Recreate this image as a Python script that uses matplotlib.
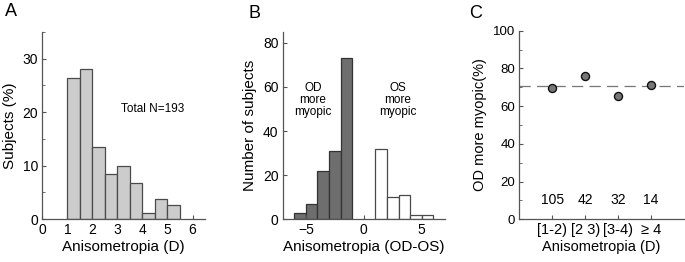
import numpy as np
import matplotlib.pyplot as plt
from matplotlib.ticker import MultipleLocator

plt.rcParams['font.family'] = ['Liberation Sans', 'DejaVu Sans']

# panel A: histogram of |anisometropia|, percent of subjects
a_edges = [1.0, 1.5, 2.0, 2.5, 3.0, 3.5, 4.0, 4.5, 5.0, 5.5]
a_pct = [26.4, 28.0, 13.5, 8.4, 9.9, 6.8, 1.1, 3.7, 2.6]

# panel B: signed anisometropia (OD-OS), counts
b_od_edges = [-6, -5, -4, -3, -2, -1]
b_od_counts = [3, 7, 22, 31, 73]
b_os_edges = [1, 2, 3, 4, 5, 6]
b_os_counts = [32, 10, 11, 2, 2]

# panel C: percent with OD more myopic per group
c_groups = ['[1-2)', '[2 3)', '[3-4)', '\u2265 4']
c_pct = [69.5, 76.2, 65.6, 71.4]
c_n = [105, 42, 32, 14]
c_overall = 70.5

spine_col = '#555555'
edge_col = '#4a4a4a'

fig = plt.figure(figsize=(6.85, 2.62), dpi=100)
axA = fig.add_axes([0.0618, 0.163, 0.2375, 0.716])
axB = fig.add_axes([0.4127, 0.163, 0.2369, 0.716])
axC = fig.add_axes([0.758, 0.163, 0.2405, 0.720])


def style(ax, tsize):
    for s in ['top', 'right']:
        ax.spines[s].set_visible(False)
    for s in ['left', 'bottom']:
        ax.spines[s].set_color(spine_col)
        ax.spines[s].set_linewidth(0.9)
    ax.tick_params(which='both', direction='in', color=spine_col, labelsize=tsize, pad=3)
    ax.tick_params(which='major', length=3)
    ax.tick_params(which='minor', length=2)


# A
style(axA, 10)
axA.bar(a_edges[:-1], a_pct, width=np.diff(a_edges), align='edge',
        color='#cccccc', edgecolor=edge_col, linewidth=0.9)
axA.set_xlim(0, 6.5)
axA.set_ylim(0, 35)
axA.set_xticks(range(0, 7))
axA.set_yticks([0, 10, 20, 30])
axA.yaxis.set_minor_locator(MultipleLocator(5))
axA.set_xlabel('Anisometropia (D)', fontsize=11, labelpad=2)
axA.set_ylabel('Subjects (%)', fontsize=11, labelpad=4)
axA.text(4.39, 20.5, 'Total N=193', fontsize=8.5, ha='center', va='center')

# B
style(axB, 10)
axB.bar(b_od_edges[:-1], b_od_counts, width=1, align='edge',
        color='#6e6e6e', edgecolor='#333333', linewidth=0.9)
axB.bar(b_os_edges[:-1], b_os_counts, width=1, align='edge',
        color='white', edgecolor=edge_col, linewidth=0.9)
axB.set_xlim(-7, 7)
axB.set_ylim(0, 85)
axB.set_xticks([-5, 0, 5])
axB.set_yticks([0, 20, 40, 60, 80])
axB.set_xlabel('Anisometropia (OD-OS)', fontsize=11, labelpad=2)
axB.set_ylabel('Number of subjects', fontsize=11, labelpad=4)
axB.text(-4.4, 54, 'OD\nmore\nmyopic', fontsize=8.5, ha='center', va='center', linespacing=1.0)
axB.text(2.93, 54, 'OS\nmore\nmyopic', fontsize=8.5, ha='center', va='center', linespacing=1.0)

# C
style(axC, 9.5)
xc = np.arange(1, len(c_groups) + 1)
axC.axhline(c_overall, color='#777777', linestyle=(0, (9, 5)), linewidth=0.9, zorder=1)
axC.plot(xc, c_pct, 'o', markersize=5.8, markerfacecolor='#777777',
         markeredgecolor='#111111', markeredgewidth=1.0, zorder=3)
for x, n in zip(xc, c_n):
    axC.text(x, 10, str(n), fontsize=10, ha='center', va='center')
axC.set_xlim(0, 5)
axC.set_ylim(0, 100)
axC.set_xticks(xc)
axC.set_xticklabels(c_groups, fontsize=10.5)
axC.set_yticks([0, 20, 40, 60, 80, 100])
axC.yaxis.set_minor_locator(MultipleLocator(10))
axC.set_xlabel('Anisometropia (D)', fontsize=10.5, labelpad=2)
axC.set_ylabel('OD more myopic(%)', fontsize=10.5, labelpad=4)

fig.text(5 / 685, 1 - 12 / 262, 'A', fontsize=13, va='center', ha='left')
fig.text(248 / 685, 1 - 13 / 262, 'B', fontsize=13, va='center', ha='left')
fig.text(469 / 685, 1 - 13 / 262, 'C', fontsize=13, va='center', ha='left')

fig.savefig('out.png', dpi=100)
